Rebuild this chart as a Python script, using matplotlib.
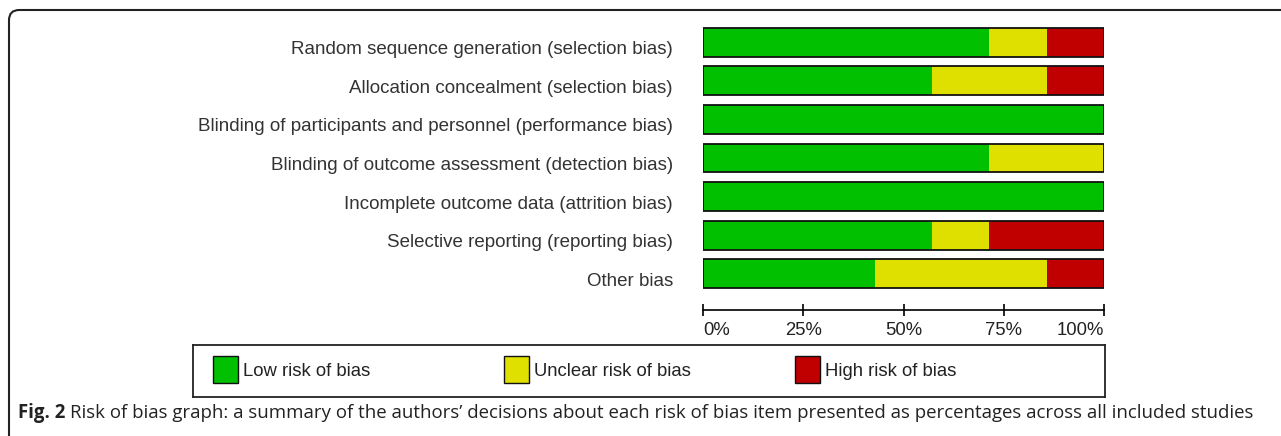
import matplotlib.pyplot as plt
from matplotlib.patches import Rectangle, FancyBboxPatch

# Risk of bias items (7 included studies), percentages per judgement
items = [
    "Random sequence generation (selection bias)",
    "Allocation concealment (selection bias)",
    "Blinding of participants and personnel (performance bias)",
    "Blinding of outcome assessment (detection bias)",
    "Incomplete outcome data (attrition bias)",
    "Selective reporting (reporting bias)",
    "Other bias",
]
low = [71.4, 57.1, 100.0, 71.4, 100.0, 57.1, 42.9]
unclear = [14.3, 28.6, 0.0, 28.6, 0.0, 14.3, 42.9]
high = [14.3, 14.3, 0.0, 0.0, 0.0, 28.6, 14.3]
ticks = [0, 25, 50, 75, 100]
tick_labels = ["0%", "25%", "50%", "75%", "100%"]
legend_labels = ["Low risk of bias", "Unclear risk of bias", "High risk of bias"]
colors = ["#00c000", "#e0e000", "#c00000"]

W, H = 1281, 436
plt.rcParams['font.family'] = ['Liberation Sans', 'DejaVu Sans']
fig = plt.figure(figsize=(W / 100, H / 100), dpi=100)

def box(x0, y0, x1, y1):
    # pixel box (top-left origin) -> figure fraction rect
    return [x0 / W, 1 - y1 / H, (x1 - x0) / W, (y1 - y0) / H]

# outer rounded frame
frame = FancyBboxPatch((9 / W, -0.1), 1.2, 1 - 10 / H + 0.1,
                       boxstyle="round,pad=0,rounding_size=0.008",
                       transform=fig.transFigure, fill=False,
                       edgecolor="#222222", linewidth=1.5, mutation_aspect=W / H)
fig.patches.append(frame)

# bar chart
ax = fig.add_axes(box(703, 22.7, 1104, 293.3))
rows = list(range(len(items)))
left = [0] * len(items)
for vals, c in zip([low, unclear, high], colors):
    ax.barh(rows, vals, left=left, height=0.75, color=c, edgecolor="none")
    left = [a + b for a, b in zip(left, vals)]
# bar outlines
ax.barh(rows, [100] * len(items), height=0.75, fill=False,
        edgecolor="#111111", linewidth=1.3)
ax.set_xlim(0, 100)
ax.set_ylim(len(items) - 0.5, -0.5)
ax.set_yticks([])
for s in ["top", "left", "right"]:
    ax.spines[s].set_visible(False)
ax.spines["bottom"].set_position(("outward", 12))
ax.spines["bottom"].set_linewidth(1.2)
ax.set_xticks(ticks)
ax.set_xticklabels(tick_labels, fontsize=13.3, color="#222222")
ax.tick_params(axis="x", direction="inout", length=8, width=1.2, pad=5)
tl = ax.get_xticklabels()
tl[0].set_ha("left")
tl[-1].set_ha("right")
ax.patch.set_visible(False)

# item labels sit a little below the bar centre, as in the original
for r, name in zip(rows, items):
    ax.text(-0.075, r + 0.19, name, transform=ax.get_yaxis_transform(),
            ha="right", va="center", fontsize=13.5, color="#333333")

# legend box
lax = fig.add_axes(box(193, 345, 1105, 397))
lax.set_xlim(193, 1105)
lax.set_ylim(397, 345)
lax.set_xticks([])
lax.set_yticks([])
for s in lax.spines.values():
    s.set_linewidth(1.3)
    s.set_edgecolor("#222222")
for i, (lab, c) in enumerate(zip(legend_labels, colors)):
    x0 = 213 + i * 291
    lax.add_patch(Rectangle((x0, 356), 25, 27, facecolor=c,
                            edgecolor="#111111", linewidth=1.0))
    lax.text(x0 + 30, 371, lab, ha="left", va="center", fontsize=13.3,
             color="#222222")

# caption
cap_y = 1 - 413 / H
t1 = fig.text(18 / W, cap_y, "Fig. 2", fontsize=13.4, fontweight="bold",
              family=["Open Sans", "DejaVu Sans"], color="#222222", va="center")
fig.canvas.draw()
bb = t1.get_window_extent()
fig.text(bb.x1 / W + 5 / W, cap_y,
         "Risk of bias graph: a summary of the authors\u2019 decisions about each risk "
         "of bias item presented as percentages across all included studies",
         fontsize=13.4, family=["Open Sans", "DejaVu Sans"], color="#222222",
         va="center")

fig.savefig("out.png", dpi=100)
